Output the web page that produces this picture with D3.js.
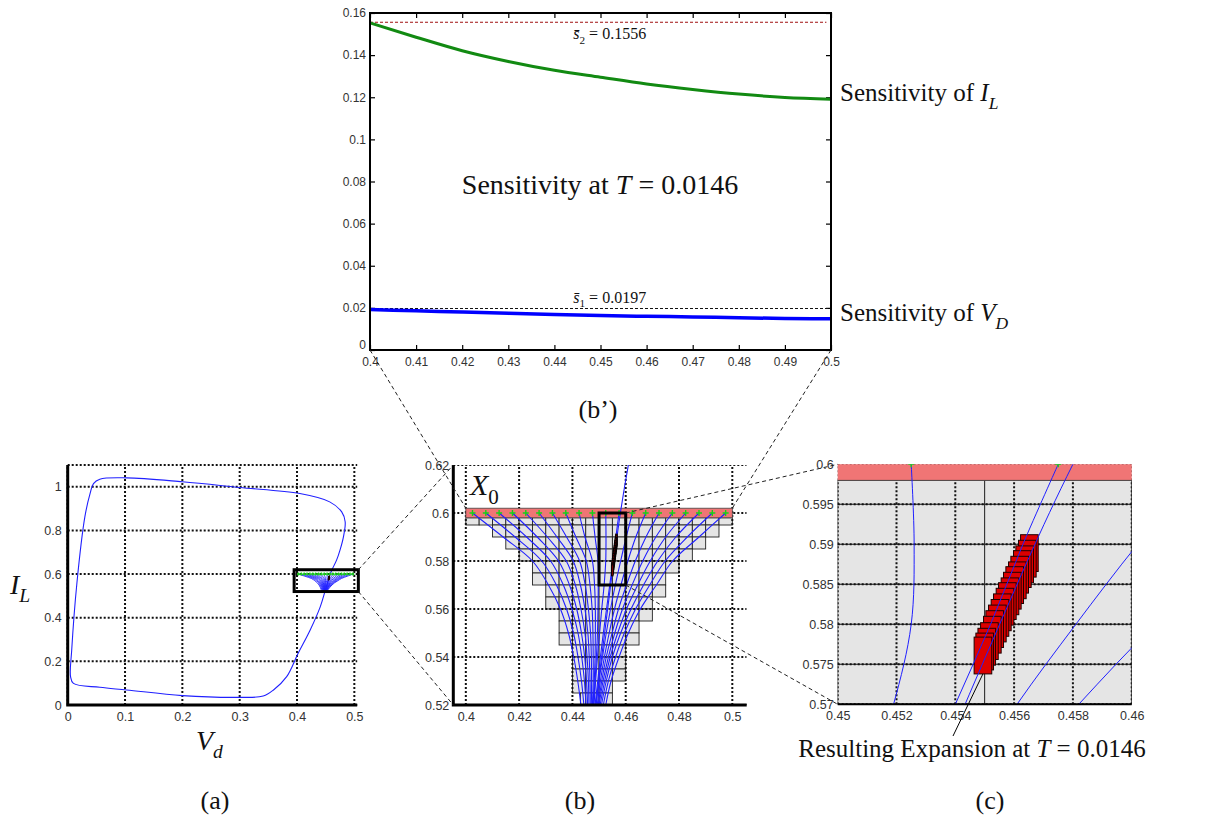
<!DOCTYPE html>
<html>
<head>
<meta charset="utf-8">
<script src="https://cdn.jsdelivr.net/npm/d3@7"></script>
<style>body{margin:0;background:#fff}</style>
</head>
<body>
<script>
// limit cycle (V_d, I_L) (a) plus the close-up points from (b)/(c)
var cycleV = [0.484, 0.481, 0.475, 0.469, 0.461, 0.458, 0.4548, 0.4487, 0.4405, 0.423, 0.402, 0.382, 0.359, 0.341, 0.300, 0.200, 0.103, 0.056, 0.010, 0.005, 0.007, 0.016, 0.030, 0.039, 0.045, 0.056, 0.103, 0.200, 0.300, 0.405, 0.457, 0.478];
var cycleI = [0.840, 0.771, 0.710, 0.664, 0.620, 0.600, 0.574, 0.520, 0.450, 0.344, 0.237, 0.130, 0.069, 0.041, 0.035, 0.043, 0.069, 0.081, 0.099, 0.130, 0.252, 0.557, 0.863, 0.969, 1.015, 1.035, 1.041, 1.023, 0.997, 0.969, 0.931, 0.885];

// trajectories starting on X0 (y = 0.6); x position at each level
var fanLevels = [0.60, 0.59, 0.58, 0.57, 0.56, 0.55, 0.54, 0.53, 0.52];
var fanX = [
  [0.4025, 0.4140, 0.4250, 0.4310, 0.4355, 0.4385, 0.4405, 0.4420, 0.4432],
  [0.4075, 0.4185, 0.4285, 0.4340, 0.4378, 0.4404, 0.4421, 0.4434, 0.4443],
  [0.4125, 0.4228, 0.4318, 0.4366, 0.4398, 0.4421, 0.4435, 0.4445, 0.4451],
  [0.4175, 0.4268, 0.4348, 0.4389, 0.4416, 0.4434, 0.4446, 0.4453, 0.4457],
  [0.4225, 0.4306, 0.4377, 0.4411, 0.4432, 0.4447, 0.4455, 0.4460, 0.4462],
  [0.4275, 0.4342, 0.4403, 0.4430, 0.4447, 0.4458, 0.4463, 0.4466, 0.4467],
  [0.4325, 0.4378, 0.4427, 0.4448, 0.4460, 0.4468, 0.4471, 0.4472, 0.4471],
  [0.4375, 0.4413, 0.4452, 0.4466, 0.4474, 0.4477, 0.4478, 0.4478, 0.4475],
  [0.4425, 0.4447, 0.4475, 0.4483, 0.4486, 0.4486, 0.4485, 0.4482, 0.4477],
  [0.4475, 0.4485, 0.4496, 0.4497, 0.4496, 0.4494, 0.4490, 0.4485, 0.4479],
  [0.4525, 0.4526, 0.4525, 0.4519, 0.4510, 0.4502, 0.4494, 0.4487, 0.4481],
  [0.4575, 0.4563, 0.4552, 0.4540, 0.4528, 0.4516, 0.4505, 0.4495, 0.4485],
  [0.4625, 0.4602, 0.4581, 0.4561, 0.4543, 0.4527, 0.4513, 0.4500, 0.4489],
  [0.4675, 0.4638, 0.4608, 0.4582, 0.4558, 0.4538, 0.4520, 0.4505, 0.4493],
  [0.4725, 0.4676, 0.4636, 0.4603, 0.4573, 0.4549, 0.4527, 0.4510, 0.4497],
  [0.4775, 0.4713, 0.4664, 0.4624, 0.4588, 0.4559, 0.4535, 0.4515, 0.4500],
  [0.4825, 0.4750, 0.4692, 0.4645, 0.4603, 0.4570, 0.4542, 0.4521, 0.4504],
  [0.4875, 0.4788, 0.4720, 0.4667, 0.4620, 0.4581, 0.4550, 0.4527, 0.4509],
  [0.4925, 0.4831, 0.4748, 0.4690, 0.4637, 0.4595, 0.4562, 0.4535, 0.4516],
  [0.4975, 0.4875, 0.4776, 0.4715, 0.4655, 0.4610, 0.4575, 0.4545, 0.4525]
];

// grey reachability boxes, one row per time step
var rowTop    = [0.598, 0.595, 0.590, 0.585, 0.580, 0.575, 0.570, 0.565, 0.560, 0.555, 0.550, 0.545, 0.540, 0.535, 0.530, 0.525];
var rowBottom = [0.595, 0.590, 0.585, 0.580, 0.575, 0.570, 0.565, 0.560, 0.555, 0.550, 0.545, 0.540, 0.535, 0.530, 0.525, 0.520];
var rowLeft   = [0.400, 0.410, 0.415, 0.420, 0.425, 0.425, 0.430, 0.430, 0.435, 0.435, 0.435, 0.440, 0.440, 0.440, 0.440, 0.443];
var rowRight  = [0.500, 0.495, 0.490, 0.485, 0.480, 0.475, 0.475, 0.470, 0.470, 0.465, 0.465, 0.460, 0.460, 0.460, 0.455, 0.455];
var boxWidth = 0.005;
var band = [0.400, 0.500, 0.598, 0.602];

// red expansion boxes (centres)
var expX = [0.45494, 0.45500, 0.45507, 0.45516, 0.45526, 0.45534, 0.45543, 0.45552, 0.45560, 0.45569, 0.45577, 0.45586, 0.45594, 0.45602, 0.45611, 0.45619, 0.45628, 0.45636, 0.45645, 0.45652];
var expY = [0.5761, 0.5766, 0.5772, 0.5779, 0.5787, 0.5794, 0.5801, 0.5808, 0.5815, 0.5822, 0.5829, 0.5835, 0.5842, 0.5849, 0.5855, 0.5862, 0.5869, 0.5875, 0.5882, 0.5889];
var expHalfW = 0.0003, expHalfH = 0.0023;

// sensitivity (b')
var sensX  = [0.40, 0.41, 0.42, 0.43, 0.44, 0.45, 0.46, 0.47, 0.48, 0.49, 0.50];
var sensIL = [0.1553, 0.1485, 0.1421, 0.1370, 0.1328, 0.1295, 0.1263, 0.1237, 0.1215, 0.1199, 0.1191];
var sensVD = [0.0192, 0.0186, 0.0180, 0.0174, 0.0169, 0.0164, 0.0160, 0.0157, 0.0153, 0.0150, 0.0148];
var sBar1 = 0.0197, sBar2 = 0.1556;

var bpTicksX = [0.40, 0.41, 0.42, 0.43, 0.44, 0.45, 0.46, 0.47, 0.48, 0.49, 0.50];
var bpTicksY = [0, 0.02, 0.04, 0.06, 0.08, 0.10, 0.12, 0.14, 0.16];
var aTicksX = [0, 0.1, 0.2, 0.3, 0.4, 0.5];
var aTicksY = [0, 0.2, 0.4, 0.6, 0.8, 1];
var bTicksX = [0.40, 0.42, 0.44, 0.46, 0.48, 0.50];
var bTicksY = [0.52, 0.54, 0.56, 0.58, 0.60, 0.62];
var cTicksX = [0.450, 0.452, 0.454, 0.456, 0.458, 0.460];
var cTicksY = [0.570, 0.575, 0.580, 0.585, 0.590, 0.595, 0.600];

var sans = "'Liberation Sans', Arial, sans-serif";
var serif = "'Liberation Serif', 'Times New Roman', serif";
var blue = "#2020ff";
var fmt = d3.format("~g");

var svg = d3.select("body").append("svg").attr("width", 1227).attr("height", 825);
svg.append("rect").attr("width", 1227).attr("height", 825).attr("fill", "#fff");
var defs = svg.append("defs");

function clip(id, x0, x1, y0, y1) {
    defs.append("clipPath").attr("id", id).append("rect")
        .attr("x", x0).attr("y", y0).attr("width", x1 - x0).attr("height", y1 - y0);
    return "url(#" + id + ")";
}

function styleAxis(g, size) {
    g.select(".domain").remove();
    g.selectAll("text").attr("font-family", sans).attr("font-size", size).attr("fill", "#333");
    g.selectAll(".tick line").attr("stroke", "#000").attr("stroke-width", 1.2);
}

function grid(g, x, y, xt, yt) {
    var xd = x.domain(), yd = y.domain();
    xt.forEach(function (t) {
        g.append("line").attr("x1", x(t)).attr("x2", x(t)).attr("y1", y(yd[0])).attr("y2", y(yd[1]))
            .attr("stroke", "#111").attr("stroke-width", 2).attr("stroke-dasharray", "2,2");
    });
    yt.forEach(function (t) {
        g.append("line").attr("y1", y(t)).attr("y2", y(t)).attr("x1", x(xd[0])).attr("x2", x(xd[1]))
            .attr("stroke", "#111").attr("stroke-width", 2).attr("stroke-dasharray", "2,2");
    });
}

function drawBoxes(g, x, y) {
    rowTop.forEach(function (top, i) {
        var c = rowLeft[i];
        while (c < rowRight[i] - 1e-9) {
            var next = Math.min(rowRight[i], (Math.floor(c / boxWidth + 1e-6) + 1) * boxWidth);
            g.append("rect")
                .attr("x", x(c)).attr("width", x(next) - x(c))
                .attr("y", y(top)).attr("height", y(rowBottom[i]) - y(top))
                .attr("fill", "#e5e5e5").attr("stroke", "#222").attr("stroke-width", 0.9);
            c = next;
        }
    });
}

function drawBand(g, x, y) {
    g.append("rect").attr("x", x(band[0])).attr("width", x(band[1]) - x(band[0]))
        .attr("y", y(band[3])).attr("height", y(band[2]) - y(band[3]))
        .attr("fill", "#f07575").attr("stroke", "#444").attr("stroke-width", 0.8);
}

function drawFan(g, x, y, w) {
    var line = d3.line().x(function (d) { return x(d[0]); }).y(function (d) { return y(d[1]); })
        .curve(d3.curveCatmullRom.alpha(0.5));
    fanX.forEach(function (row) {
        var pts = row.map(function (v, k) { return [v, fanLevels[k]]; });
        g.append("path").attr("d", line(pts)).attr("fill", "none").attr("stroke", blue).attr("stroke-width", w);
    });
}

function drawCycle(g, x, y, w) {
    var pts = cycleV.map(function (v, k) { return [v, cycleI[k]]; });
    var line = d3.line().x(function (d) { return x(d[0]); }).y(function (d) { return y(d[1]); })
        .curve(d3.curveCatmullRomClosed.alpha(0.5));
    g.append("path").attr("d", line(pts)).attr("fill", "none").attr("stroke", blue).attr("stroke-width", w);
}

function drawExp(g, x, y, stroke) {
    expX.slice().reverse().forEach(function (cx, j) {
        var cy = expY[expY.length - 1 - j];
        g.append("rect").attr("x", x(cx - expHalfW)).attr("width", x(cx + expHalfW) - x(cx - expHalfW))
            .attr("y", y(cy + expHalfH)).attr("height", y(cy - expHalfH) - y(cy + expHalfH))
            .attr("fill", "#dd0000").attr("stroke", stroke).attr("stroke-width", 1);
    });
}

function drawMarkers(g, x, y, r) {
    fanX.forEach(function (row) {
        var cx = x(row[0]), cy = y(fanLevels[0]);
        g.append("path").attr("d", "M" + (cx - r) + "," + cy + "H" + (cx + r) + "M" + cx + "," + (cy - r) + "V" + (cy + r))
            .attr("stroke", "#18d018").attr("stroke-width", 1.4);
    });
}

// text with italic / subscript pieces
function mathText(g, x, y, parts, size, anchor) {
    var t = g.append("text").attr("x", x).attr("y", y).attr("font-family", serif)
        .attr("font-size", size).attr("text-anchor", anchor || "start").attr("fill", "#111");
    var shift = 0;
    parts.forEach(function (p) {
        var s = t.append("tspan").text(p.t);
        var want = p.sub ? size * 0.3 : 0;
        if (want !== shift) { s.attr("dy", want - shift); shift = want; }
        if (p.sub) s.attr("font-size", size * 0.7);
        if (p.it) s.attr("font-style", "italic");
    });
    return t;
}

// ---------------- panel (b') ----------------
var xbp = d3.scaleLinear().domain([0.4, 0.5]).range([370, 831]);
var ybp = d3.scaleLinear().domain([0, 0.16]).range([350, 13]);
var gbp = svg.append("g");

gbp.append("g").attr("transform", "translate(0,350)")
    .call(d3.axisBottom(xbp).tickValues(bpTicksX).tickSizeInner(-5).tickSizeOuter(0).tickPadding(7).tickFormat(fmt))
    .call(styleAxis, 12);
gbp.append("g").attr("transform", "translate(0,13)")
    .call(d3.axisTop(xbp).tickValues(bpTicksX).tickSizeInner(-5).tickSizeOuter(0).tickFormat(""))
    .call(styleAxis, 12);
var bpLeft = gbp.append("g").attr("transform", "translate(370,0)")
    .call(d3.axisLeft(ybp).tickValues(bpTicksY).tickSizeInner(-5).tickSizeOuter(0).tickPadding(4).tickFormat(fmt))
    .call(styleAxis, 12);
// lift the "0" so it clears the x label below it
bpLeft.selectAll(".tick text").filter(function (d) { return d === 0; }).attr("dy", "-0.15em");
gbp.append("g").attr("transform", "translate(831,0)")
    .call(d3.axisRight(ybp).tickValues(bpTicksY).tickSizeInner(-5).tickSizeOuter(0).tickFormat(""))
    .call(styleAxis, 12);

gbp.append("line").attr("x1", xbp(0.4)).attr("x2", xbp(0.499)).attr("y1", ybp(sBar2)).attr("y2", ybp(sBar2))
    .attr("stroke", "#a01010").attr("stroke-width", 1.2).attr("stroke-dasharray", "3,2");
gbp.append("line").attr("x1", xbp(0.4)).attr("x2", xbp(0.5)).attr("y1", ybp(sBar1)).attr("y2", ybp(sBar1))
    .attr("stroke", "#111").attr("stroke-width", 1.1).attr("stroke-dasharray", "3,2");

var sensLine = function (vals) {
    return d3.line().x(function (d, i) { return xbp(sensX[i]); }).y(function (d) { return ybp(d); })
        .curve(d3.curveMonotoneX)(vals);
};
gbp.append("path").attr("d", sensLine(sensIL)).attr("fill", "none").attr("stroke", "#128a12").attr("stroke-width", 3);
gbp.append("path").attr("d", sensLine(sensVD)).attr("fill", "none").attr("stroke", "#0000ff").attr("stroke-width", 3.5);

gbp.append("rect").attr("x", 370).attr("y", 13).attr("width", 461).attr("height", 337)
    .attr("fill", "none").attr("stroke", "#000").attr("stroke-width", 2);

mathText(gbp, xbp(0.452), ybp(sBar2) + 17, [{t: "s\u0304", it: true}, {t: "2", sub: true}, {t: " = 0.1556"}], 16, "middle");
mathText(gbp, xbp(0.452), ybp(sBar1) - 6, [{t: "s\u0304", it: true}, {t: "1", sub: true}, {t: " = 0.0197"}], 16, "middle");
mathText(gbp, 600, 194, [{t: "Sensitivity at "}, {t: "T", it: true}, {t: " = 0.0146"}], 28, "middle");
mathText(svg, 840, 101, [{t: "Sensitivity of "}, {t: "I", it: true}, {t: "L", it: true, sub: true}], 25);
mathText(svg, 840, 321, [{t: "Sensitivity of "}, {t: "V", it: true}, {t: "D", it: true, sub: true}], 25);
mathText(svg, 598, 418, [{t: "(b\u2019)"}], 26, "middle");

// ---------------- panel (a) ----------------
var xa = d3.scaleLinear().domain([0, 0.505]).range([67.7, 357.2]);
var ya = d3.scaleLinear().domain([0, 1.1]).range([705, 465]);
var ga = svg.append("g");
grid(ga, xa, ya, aTicksX, aTicksY.concat([1.1]));
ga.append("g").attr("transform", "translate(0,705)")
    .call(d3.axisBottom(xa).tickValues(aTicksX).tickSize(0).tickPadding(7).tickFormat(fmt)).call(styleAxis, 12.5);
ga.append("g").attr("transform", "translate(67.7,0)")
    .call(d3.axisLeft(ya).tickValues(aTicksY).tickSize(0).tickPadding(6).tickFormat(fmt)).call(styleAxis, 12.5);
var gaIn = ga.append("g").attr("clip-path", clip("clipA", 67.7, 357.2, 465, 705));
drawCycle(gaIn, xa, ya, 1.1);
drawFan(gaIn, xa, ya, 0.9);
drawExp(gaIn, xa, ya, "#200000");
drawMarkers(gaIn, xa, ya, 1.5);
ga.append("rect").attr("x", xa(0.395)).attr("y", ya(0.62)).attr("width", xa(0.507) - xa(0.395)).attr("height", ya(0.52) - ya(0.62))
    .attr("fill", "none").attr("stroke", "#000").attr("stroke-width", 3);
ga.append("path").attr("d", "M" + xa(0) + "," + ya(1.1) + "V" + ya(0) + "H" + xa(0.505))
    .attr("fill", "none").attr("stroke", "#000").attr("stroke-width", 3);
mathText(svg, 10, 594, [{t: "I", it: true}, {t: "L", it: true, sub: true}], 28);
mathText(svg, 196, 750, [{t: "V", it: true}, {t: "d", it: true, sub: true}], 28);
mathText(svg, 215, 809, [{t: "(a)"}], 26, "middle");

// ---------------- panel (b) ----------------
var xb = d3.scaleLinear().domain([0.3953, 0.5054]).range([453.3, 746.7]);
var yb = d3.scaleLinear().domain([0.52, 0.62]).range([705, 465]);
var gb = svg.append("g");
var gbIn = gb.append("g").attr("clip-path", clip("clipB", 453.3, 746.7, 465, 705));
drawBoxes(gbIn, xb, yb);
grid(gbIn, xb, yb, bTicksX, bTicksY);
drawBand(gbIn, xb, yb);
drawFan(gbIn, xb, yb, 1.1);
drawCycle(gbIn, xb, yb, 1.1);
drawExp(gbIn, xb, yb, "#000");
drawMarkers(gbIn, xb, yb, 3);
gb.append("rect").attr("x", xb(0.45)).attr("y", yb(0.6)).attr("width", xb(0.46) - xb(0.45)).attr("height", yb(0.57) - yb(0.6))
    .attr("fill", "none").attr("stroke", "#000").attr("stroke-width", 3);
gb.append("g").attr("transform", "translate(0,705)")
    .call(d3.axisBottom(xb).tickValues(bTicksX).tickSize(0).tickPadding(7).tickFormat(fmt)).call(styleAxis, 12.5);
gb.append("g").attr("transform", "translate(453.3,0)")
    .call(d3.axisLeft(yb).tickValues(bTicksY).tickSize(0).tickPadding(4).tickFormat(fmt)).call(styleAxis, 12.5);
gb.append("path").attr("d", "M453.3,465V705H746.7").attr("fill", "none").attr("stroke", "#000").attr("stroke-width", 3);
mathText(svg, 470, 495, [{t: "X", it: true}, {t: "0", sub: true}], 30);
mathText(svg, 580, 809, [{t: "(b)"}], 26, "middle");

// ---------------- panel (c) ----------------
var xc = d3.scaleLinear().domain([0.45, 0.46]).range([837.7, 1131.7]);
var yc = d3.scaleLinear().domain([0.57, 0.6]).range([704.3, 464.3]);
var gc = svg.append("g");
var gcIn = gc.append("g").attr("clip-path", clip("clipC", 837.7, 1131.7, 464.3, 704.3));
drawBoxes(gcIn, xc, yc);
grid(gcIn, xc, yc, cTicksX, cTicksY);
drawBand(gcIn, xc, yc);
drawExp(gcIn, xc, yc, "#200000");
drawFan(gcIn, xc, yc, 1);
drawCycle(gcIn, xc, yc, 1);
drawMarkers(gcIn, xc, yc, 3);
gc.append("line").attr("x1", 837.7).attr("x2", 1131.7).attr("y1", 704.3).attr("y2", 704.3).attr("stroke", "#000").attr("stroke-width", 2);
gc.append("g").attr("transform", "translate(0,704.3)")
    .call(d3.axisBottom(xc).tickValues(cTicksX).tickSize(0).tickPadding(7).tickFormat(fmt)).call(styleAxis, 12.5);
gc.append("g").attr("transform", "translate(837.7,0)")
    .call(d3.axisLeft(yc).tickValues(cTicksY).tickSize(0).tickPadding(4).tickFormat(fmt)).call(styleAxis, 12.5);
gc.append("line").attr("x1", xc(expX[0])).attr("y1", yc(expY[0] - expHalfH)).attr("x2", 953).attr("y2", 736)
    .attr("stroke", "#000").attr("stroke-width", 1);
mathText(svg, 972, 757, [{t: "Resulting Expansion at "}, {t: "T", it: true}, {t: " = 0.0146"}], 25, "middle");
mathText(svg, 990, 809, [{t: "(c)"}], 26, "middle");

// ---------------- zoom connectors ----------------
var links = [
    [xa(0.507), ya(0.62), xb(0.3953), yb(0.62)],
    [xa(0.507), ya(0.52), xb(0.3953), yb(0.52)],
    [xbp(0.4), ybp(0), xb(0.4), yb(band[3])],
    [xbp(0.5), ybp(0), xb(0.5), yb(band[3])],
    [xb(0.46), yb(0.6), xc(0.45), yc(0.6)],
    [xb(0.46), yb(0.57), xc(0.45), yc(0.57)]
];
svg.append("g").selectAll("line").data(links).enter().append("line")
    .attr("x1", function (d) { return d[0]; }).attr("y1", function (d) { return d[1]; })
    .attr("x2", function (d) { return d[2]; }).attr("y2", function (d) { return d[3]; })
    .attr("stroke", "#222").attr("stroke-width", 1).attr("stroke-dasharray", "4,3");
</script>
</body>
</html>
